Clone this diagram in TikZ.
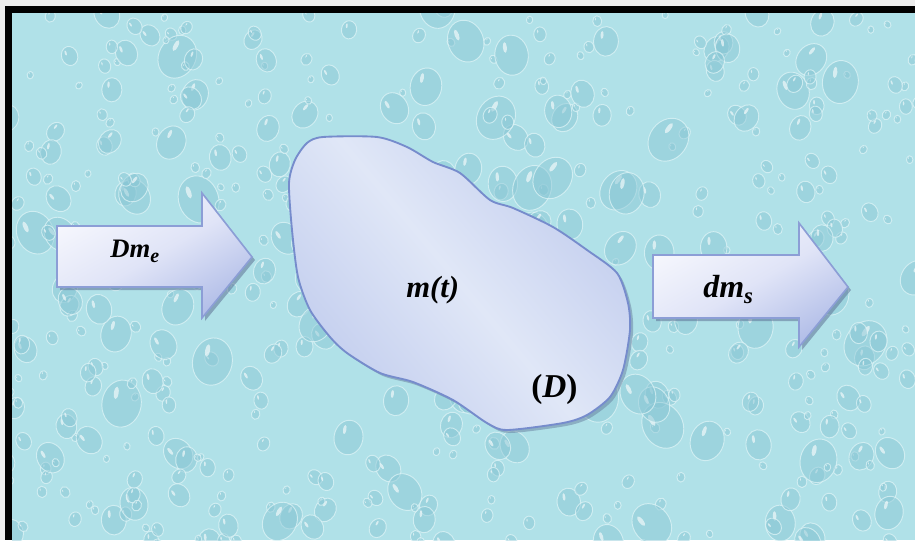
\documentclass[tikz,border=0pt]{standalone}
\usepackage{fontspec}
\setmainfont{Liberation Serif}
\definecolor{pagegray}{RGB}{236,236,236}
\definecolor{bgcyan}{RGB}{176,225,232}
\definecolor{dropdark}{RGB}{135,197,212}
\definecolor{droprim}{RGB}{226,246,248}
\definecolor{arrowedge}{RGB}{140,158,214}
\definecolor{arrowlight}{RGB}{246,247,253}
\definecolor{arrowmid}{RGB}{224,228,247}
\definecolor{arrowdark}{RGB}{178,190,232}
\definecolor{blobedge}{RGB}{118,140,204}
\definecolor{blobdark}{RGB}{194,205,238}
\definecolor{bloblight}{RGB}{224,231,247}
\definecolor{shadowcol}{RGB}{95,115,150}
\begin{document}
\begin{tikzpicture}[x=0.75pt,y=-0.75pt,
  arrowbox/.style={draw=arrowedge, line width=1.2, shading=axis, top color=arrowlight, bottom color=arrowdark, middle color=arrowmid, shading angle=30},
  shadowbox/.style={fill=shadowcol, opacity=0.55},
  blobshape/.style={draw=blobedge, line width=1.4, shading=axis, top color=blobdark, bottom color=blobdark, middle color=bloblight, shading angle=-50},
  label/.style={inner sep=0pt, font=\bfseries\itshape},
  dropbody/.style={fill=dropdark, opacity=0.45},
  droprimline/.style={draw=droprim, opacity=0.7, line width=0.7},
  drophigh/.style={fill=white, opacity=0.6}]
\useasboundingbox (0,0) rectangle (915,540);
\fill[pagegray] (0,0) rectangle (915,540);
\fill[bgcyan] (12,13) rectangle (915,540);
% water droplet texture
\begin{scope}
\clip (12,13) rectangle (915,540);
\pgfmathsetseed{4242}
\foreach \i in {1,...,520}{
  \pgfmathsetmacro\xx{5+rnd*915}
  \pgfmathsetmacro\yy{5+rnd*540}
  \pgfmathsetmacro\rr{3+rnd*rnd*19}
  \pgfmathsetmacro\ang{-40+rnd*80}
  \begin{scope}[rotate around={\ang:(\xx,\yy)}]
    \fill[dropbody] (\xx,\yy) ellipse [x radius=\rr, y radius=1.2*\rr];
    \draw[droprimline] (\xx,\yy) ellipse [x radius=\rr, y radius=1.2*\rr];
    \fill[drophigh] (\xx-0.35*\rr,\yy-0.5*\rr) ellipse [x radius=0.12*\rr, y radius=0.32*\rr];
  \end{scope}
}
\end{scope}
% frame
\fill[black] (5,6) rectangle (915,13);
\fill[black] (5,6) rectangle (12,540);
% blob
\fill[shadowcol, opacity=0.45, shift={(3,3)}] plot[smooth cycle, tension=0.45] coordinates {
 (323,137) (377,137) (407,147) (433,162) (460,173) (490,200) (513,208) (553,227)
 (587,250) (617,273) (628,303) (630,330) (623,370) (610,397) (587,415) (563,423)
 (507,430) (487,423) (453,400) (413,382) (380,373) (347,353) (330,337) (310,310)
 (298,277) (292,230) (289,183) (295,160) (307,143)};
\path[blobshape] plot[smooth cycle, tension=0.45] coordinates {
 (323,137) (377,137) (407,147) (433,162) (460,173) (490,200) (513,208) (553,227)
 (587,250) (617,273) (628,303) (630,330) (623,370) (610,397) (587,415) (563,423)
 (507,430) (487,423) (453,400) (413,382) (380,373) (347,353) (330,337) (310,310)
 (298,277) (292,230) (289,183) (295,160) (307,143)};
% left arrow
\fill[shadowbox, shift={(3,3)}] (57,226) -- (202,226) -- (202,193) -- (252,257) -- (202,318) -- (202,287) -- (57,287) -- cycle;
\path[arrowbox] (57,226) -- (202,226) -- (202,193) -- (252,257) -- (202,318) -- (202,287) -- (57,287) -- cycle;
% right arrow
\fill[shadowbox, shift={(3,3)}] (653,255) -- (799,255) -- (799,223) -- (848,287) -- (799,347) -- (799,318) -- (653,318) -- cycle;
\path[arrowbox] (653,255) -- (799,255) -- (799,223) -- (848,287) -- (799,347) -- (799,318) -- (653,318) -- cycle;
% labels
\node[label, anchor=base west] (dme) at (110,257) {\fontsize{20}{20}\selectfont Dm\raisebox{-0.2em}{\fontsize{15}{15}\selectfont e}};
\node[label, anchor=base west] (dms) at (703,297) {\fontsize{24}{24}\selectfont dm\raisebox{-0.2em}{\fontsize{17}{17}\selectfont s}};
\node[label, anchor=base west] (mt) at (406,297) {\fontsize{23}{23}\selectfont m(t)};
\node[label, anchor=base west] (dom) at (531,397) {\fontsize{25}{25}\selectfont\upshape (\textit{D})};
\end{tikzpicture}
\end{document}
